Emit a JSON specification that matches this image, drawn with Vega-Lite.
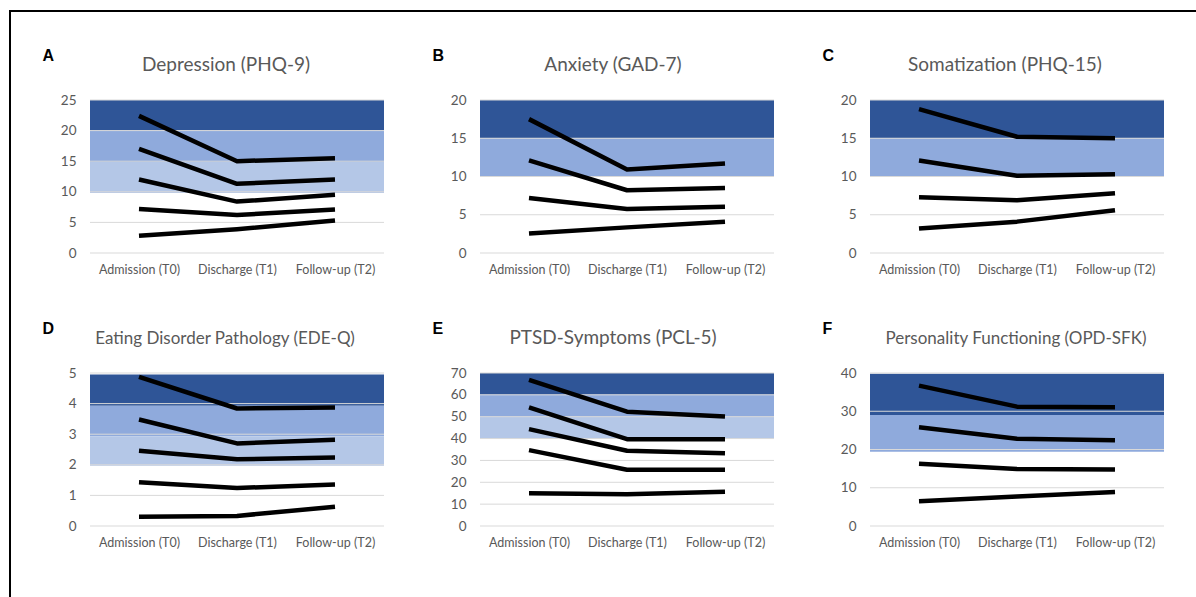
{
  "$schema": "https://vega.github.io/schema/vega-lite/v6.json",
  "padding": {"left": 9, "top": 10, "right": 0, "bottom": 0},
  "background": "white",
  "datasets": {
    "lines": [
      {"p":"A","s":1,"t":"Admission (T0)","v":22.4},{"p":"A","s":1,"t":"Discharge (T1)","v":15.0},{"p":"A","s":1,"t":"Follow-up (T2)","v":15.5},
      {"p":"A","s":2,"t":"Admission (T0)","v":17.0},{"p":"A","s":2,"t":"Discharge (T1)","v":11.3},{"p":"A","s":2,"t":"Follow-up (T2)","v":12.0},
      {"p":"A","s":3,"t":"Admission (T0)","v":12.0},{"p":"A","s":3,"t":"Discharge (T1)","v":8.4},{"p":"A","s":3,"t":"Follow-up (T2)","v":9.5},
      {"p":"A","s":4,"t":"Admission (T0)","v":7.2},{"p":"A","s":4,"t":"Discharge (T1)","v":6.2},{"p":"A","s":4,"t":"Follow-up (T2)","v":7.1},
      {"p":"A","s":5,"t":"Admission (T0)","v":2.8},{"p":"A","s":5,"t":"Discharge (T1)","v":3.9},{"p":"A","s":5,"t":"Follow-up (T2)","v":5.3},
      {"p":"B","s":1,"t":"Admission (T0)","v":17.5},{"p":"B","s":1,"t":"Discharge (T1)","v":10.9},{"p":"B","s":1,"t":"Follow-up (T2)","v":11.7},
      {"p":"B","s":2,"t":"Admission (T0)","v":12.1},{"p":"B","s":2,"t":"Discharge (T1)","v":8.2},{"p":"B","s":2,"t":"Follow-up (T2)","v":8.5},
      {"p":"B","s":3,"t":"Admission (T0)","v":7.2},{"p":"B","s":3,"t":"Discharge (T1)","v":5.75},{"p":"B","s":3,"t":"Follow-up (T2)","v":6.05},
      {"p":"B","s":4,"t":"Admission (T0)","v":2.55},{"p":"B","s":4,"t":"Discharge (T1)","v":3.35},{"p":"B","s":4,"t":"Follow-up (T2)","v":4.1},
      {"p":"C","s":1,"t":"Admission (T0)","v":18.8},{"p":"C","s":1,"t":"Discharge (T1)","v":15.2},{"p":"C","s":1,"t":"Follow-up (T2)","v":15.0},
      {"p":"C","s":2,"t":"Admission (T0)","v":12.1},{"p":"C","s":2,"t":"Discharge (T1)","v":10.1},{"p":"C","s":2,"t":"Follow-up (T2)","v":10.3},
      {"p":"C","s":3,"t":"Admission (T0)","v":7.3},{"p":"C","s":3,"t":"Discharge (T1)","v":6.9},{"p":"C","s":3,"t":"Follow-up (T2)","v":7.8},
      {"p":"C","s":4,"t":"Admission (T0)","v":3.2},{"p":"C","s":4,"t":"Discharge (T1)","v":4.1},{"p":"C","s":4,"t":"Follow-up (T2)","v":5.6},
      {"p":"D","s":1,"t":"Admission (T0)","v":4.87},{"p":"D","s":1,"t":"Discharge (T1)","v":3.84},{"p":"D","s":1,"t":"Follow-up (T2)","v":3.87},
      {"p":"D","s":2,"t":"Admission (T0)","v":3.48},{"p":"D","s":2,"t":"Discharge (T1)","v":2.70},{"p":"D","s":2,"t":"Follow-up (T2)","v":2.82},
      {"p":"D","s":3,"t":"Admission (T0)","v":2.46},{"p":"D","s":3,"t":"Discharge (T1)","v":2.18},{"p":"D","s":3,"t":"Follow-up (T2)","v":2.24},
      {"p":"D","s":4,"t":"Admission (T0)","v":1.43},{"p":"D","s":4,"t":"Discharge (T1)","v":1.24},{"p":"D","s":4,"t":"Follow-up (T2)","v":1.36},
      {"p":"D","s":5,"t":"Admission (T0)","v":0.30},{"p":"D","s":5,"t":"Discharge (T1)","v":0.33},{"p":"D","s":5,"t":"Follow-up (T2)","v":0.63},
      {"p":"E","s":1,"t":"Admission (T0)","v":66.9},{"p":"E","s":1,"t":"Discharge (T1)","v":52.3},{"p":"E","s":1,"t":"Follow-up (T2)","v":50.1},
      {"p":"E","s":2,"t":"Admission (T0)","v":54.3},{"p":"E","s":2,"t":"Discharge (T1)","v":39.7},{"p":"E","s":2,"t":"Follow-up (T2)","v":39.7},
      {"p":"E","s":3,"t":"Admission (T0)","v":44.3},{"p":"E","s":3,"t":"Discharge (T1)","v":34.4},{"p":"E","s":3,"t":"Follow-up (T2)","v":33.3},
      {"p":"E","s":4,"t":"Admission (T0)","v":34.7},{"p":"E","s":4,"t":"Discharge (T1)","v":25.7},{"p":"E","s":4,"t":"Follow-up (T2)","v":25.7},
      {"p":"E","s":5,"t":"Admission (T0)","v":15.0},{"p":"E","s":5,"t":"Discharge (T1)","v":14.5},{"p":"E","s":5,"t":"Follow-up (T2)","v":15.7},
      {"p":"F","s":1,"t":"Admission (T0)","v":36.7},{"p":"F","s":1,"t":"Discharge (T1)","v":31.2},{"p":"F","s":1,"t":"Follow-up (T2)","v":31.05},
      {"p":"F","s":2,"t":"Admission (T0)","v":25.8},{"p":"F","s":2,"t":"Discharge (T1)","v":22.8},{"p":"F","s":2,"t":"Follow-up (T2)","v":22.45},
      {"p":"F","s":3,"t":"Admission (T0)","v":16.3},{"p":"F","s":3,"t":"Discharge (T1)","v":14.9},{"p":"F","s":3,"t":"Follow-up (T2)","v":14.8},
      {"p":"F","s":4,"t":"Admission (T0)","v":6.5},{"p":"F","s":4,"t":"Discharge (T1)","v":7.7},{"p":"F","s":4,"t":"Follow-up (T2)","v":8.9}
    ],
    "bands": [
      {"p":"A","level":"high","lo":20,"hi":25},{"p":"A","level":"mid","lo":14.85,"hi":20},{"p":"A","level":"low","lo":9.8,"hi":14.85},
      {"p":"B","level":"high","lo":15,"hi":20},{"p":"B","level":"mid","lo":10,"hi":15},
      {"p":"C","level":"high","lo":15,"hi":20},{"p":"C","level":"mid","lo":10,"hi":15},
      {"p":"D","level":"high","lo":3.93,"hi":4.95},{"p":"D","level":"mid","lo":2.93,"hi":3.93},{"p":"D","level":"low","lo":1.97,"hi":2.93},
      {"p":"E","level":"high","lo":60,"hi":70},{"p":"E","level":"mid","lo":50,"hi":60},{"p":"E","level":"low","lo":40,"hi":50},
      {"p":"F","level":"high","lo":29,"hi":39.8},{"p":"F","level":"mid","lo":19.4,"hi":29}
    ],
    "grid": [
      {"p":"A","v":0},{"p":"A","v":5},{"p":"A","v":10},{"p":"A","v":15},{"p":"A","v":20},{"p":"A","v":25},
      {"p":"B","v":0},{"p":"B","v":5},{"p":"B","v":10},{"p":"B","v":15},{"p":"B","v":20},
      {"p":"C","v":0},{"p":"C","v":5},{"p":"C","v":10},{"p":"C","v":15},{"p":"C","v":20},
      {"p":"D","v":0},{"p":"D","v":1},{"p":"D","v":2},{"p":"D","v":3},{"p":"D","v":4},{"p":"D","v":5},
      {"p":"E","v":0},{"p":"E","v":10},{"p":"E","v":20},{"p":"E","v":30},{"p":"E","v":40},{"p":"E","v":50},{"p":"E","v":60},{"p":"E","v":70},
      {"p":"F","v":0},{"p":"F","v":10},{"p":"F","v":20},{"p":"F","v":30},{"p":"F","v":40}
    ],
    "blank": [{}]
  },
  "spacing": 0,
  "vconcat": [
    {"width": 1187, "height": 2, "data": {"name": "blank"}, "mark": {"type": "rect", "color": "black"}, "encoding": {}},
    {
      "spacing": 31,
      "hconcat": [
        {"width": 2, "height": 585, "data": {"name": "blank"}, "mark": {"type": "rect", "color": "black"}, "encoding": {}},
        {
          "spacing": 0,
          "vconcat": [
            {"width": 10, "height": 35, "data": {"name": "blank"}, "mark": {"type": "rect", "opacity": 0}, "encoding": {}},
            {
              "columns": 3,
              "spacing": {"column": 47, "row": 44},
              "concat": [
                {
                  "width": 294, "height": 153,
                  "title": {"text": "Depression (PHQ-9)", "dx": -11},
                  "layer": [
                    {"data": {"name": "bands"}, "transform": [{"filter": "datum.p === 'A'"}], "mark": "rect",
                     "encoding": {"y": {"field": "lo", "type": "quantitative", "scale": {"domain": [0, 25], "nice": false}, "axis": {"title": "A", "values": [0, 5, 10, 15, 20, 25]}},
                                  "y2": {"field": "hi"},
                                  "color": {"field": "level", "type": "nominal", "scale": {"domain": ["high", "mid", "low"], "range": ["#2F5597", "#8FAADC", "#B4C7E7"]}, "legend": null}}},
                    {"data": {"name": "grid"}, "transform": [{"filter": "datum.p === 'A'"}], "mark": {"type": "rule", "color": "#D9D9D9", "strokeWidth": 1},
                     "encoding": {"y": {"field": "v", "type": "quantitative", "axis": {"title": "A", "values": [0, 5, 10, 15, 20, 25]}, "scale": {"domain": [0, 25], "nice": false}}}},
                    {"data": {"name": "lines"}, "transform": [{"filter": "datum.p === 'A'"}], "mark": {"type": "line", "color": "black", "strokeWidth": 4.5, "strokeJoin": "round"},
                     "encoding": {"x": {"field": "t", "type": "ordinal", "sort": ["Admission (T0)", "Discharge (T1)", "Follow-up (T2)"], "axis": {"title": null}},
                                  "y": {"field": "v", "type": "quantitative", "axis": {"title": "A", "values": [0, 5, 10, 15, 20, 25]}, "scale": {"domain": [0, 25], "nice": false}},
                                  "detail": {"field": "s", "type": "nominal"}}}
                  ]
                },
                {
                  "width": 294, "height": 153,
                  "title": {"text": "Anxiety (GAD-7)", "dx": -14},
                  "layer": [
                    {"data": {"name": "bands"}, "transform": [{"filter": "datum.p === 'B'"}], "mark": "rect",
                     "encoding": {"y": {"field": "lo", "type": "quantitative", "scale": {"domain": [0, 20], "nice": false}, "axis": {"title": "B", "values": [0, 5, 10, 15, 20]}},
                                  "y2": {"field": "hi"},
                                  "color": {"field": "level", "type": "nominal", "scale": {"domain": ["high", "mid", "low"], "range": ["#2F5597", "#8FAADC", "#B4C7E7"]}, "legend": null}}},
                    {"data": {"name": "grid"}, "transform": [{"filter": "datum.p === 'B'"}], "mark": {"type": "rule", "color": "#D9D9D9", "strokeWidth": 1},
                     "encoding": {"y": {"field": "v", "type": "quantitative", "axis": {"title": "B", "values": [0, 5, 10, 15, 20]}, "scale": {"domain": [0, 20], "nice": false}}}},
                    {"data": {"name": "lines"}, "transform": [{"filter": "datum.p === 'B'"}], "mark": {"type": "line", "color": "black", "strokeWidth": 4.5, "strokeJoin": "round"},
                     "encoding": {"x": {"field": "t", "type": "ordinal", "sort": ["Admission (T0)", "Discharge (T1)", "Follow-up (T2)"], "axis": {"title": null}},
                                  "y": {"field": "v", "type": "quantitative", "axis": {"title": "B", "values": [0, 5, 10, 15, 20]}, "scale": {"domain": [0, 20], "nice": false}},
                                  "detail": {"field": "s", "type": "nominal"}}}
                  ]
                },
                {
                  "width": 294, "height": 153,
                  "title": {"text": "Somatization (PHQ-15)", "dx": -12},
                  "layer": [
                    {"data": {"name": "bands"}, "transform": [{"filter": "datum.p === 'C'"}], "mark": "rect",
                     "encoding": {"y": {"field": "lo", "type": "quantitative", "scale": {"domain": [0, 20], "nice": false}, "axis": {"title": "C", "values": [0, 5, 10, 15, 20]}},
                                  "y2": {"field": "hi"},
                                  "color": {"field": "level", "type": "nominal", "scale": {"domain": ["high", "mid", "low"], "range": ["#2F5597", "#8FAADC", "#B4C7E7"]}, "legend": null}}},
                    {"data": {"name": "grid"}, "transform": [{"filter": "datum.p === 'C'"}], "mark": {"type": "rule", "color": "#D9D9D9", "strokeWidth": 1},
                     "encoding": {"y": {"field": "v", "type": "quantitative", "axis": {"title": "C", "values": [0, 5, 10, 15, 20]}, "scale": {"domain": [0, 20], "nice": false}}}},
                    {"data": {"name": "lines"}, "transform": [{"filter": "datum.p === 'C'"}], "mark": {"type": "line", "color": "black", "strokeWidth": 4.5, "strokeJoin": "round"},
                     "encoding": {"x": {"field": "t", "type": "ordinal", "sort": ["Admission (T0)", "Discharge (T1)", "Follow-up (T2)"], "axis": {"title": null}},
                                  "y": {"field": "v", "type": "quantitative", "axis": {"title": "C", "values": [0, 5, 10, 15, 20]}, "scale": {"domain": [0, 20], "nice": false}},
                                  "detail": {"field": "s", "type": "nominal"}}}
                  ]
                },
                {
                  "width": 294, "height": 153,
                  "title": {"text": "Eating Disorder Pathology (EDE-Q)", "dx": -12, "fontSize": 17},
                  "layer": [
                    {"data": {"name": "bands"}, "transform": [{"filter": "datum.p === 'D'"}], "mark": "rect",
                     "encoding": {"y": {"field": "lo", "type": "quantitative", "scale": {"domain": [0, 5], "nice": false}, "axis": {"title": "D", "values": [0, 1, 2, 3, 4, 5]}},
                                  "y2": {"field": "hi"},
                                  "color": {"field": "level", "type": "nominal", "scale": {"domain": ["high", "mid", "low"], "range": ["#2F5597", "#8FAADC", "#B4C7E7"]}, "legend": null}}},
                    {"data": {"name": "grid"}, "transform": [{"filter": "datum.p === 'D'"}], "mark": {"type": "rule", "color": "#D9D9D9", "strokeWidth": 1},
                     "encoding": {"y": {"field": "v", "type": "quantitative", "axis": {"title": "D", "values": [0, 1, 2, 3, 4, 5]}, "scale": {"domain": [0, 5], "nice": false}}}},
                    {"data": {"name": "lines"}, "transform": [{"filter": "datum.p === 'D'"}], "mark": {"type": "line", "color": "black", "strokeWidth": 4.5, "strokeJoin": "round"},
                     "encoding": {"x": {"field": "t", "type": "ordinal", "sort": ["Admission (T0)", "Discharge (T1)", "Follow-up (T2)"], "axis": {"title": null}},
                                  "y": {"field": "v", "type": "quantitative", "axis": {"title": "D", "values": [0, 1, 2, 3, 4, 5]}, "scale": {"domain": [0, 5], "nice": false}},
                                  "detail": {"field": "s", "type": "nominal"}}}
                  ]
                },
                {
                  "width": 294, "height": 153,
                  "title": {"text": "PTSD-Symptoms (PCL-5)", "dx": -14},
                  "layer": [
                    {"data": {"name": "bands"}, "transform": [{"filter": "datum.p === 'E'"}], "mark": "rect",
                     "encoding": {"y": {"field": "lo", "type": "quantitative", "scale": {"domain": [0, 70], "nice": false}, "axis": {"title": "E", "values": [0, 10, 20, 30, 40, 50, 60, 70]}},
                                  "y2": {"field": "hi"},
                                  "color": {"field": "level", "type": "nominal", "scale": {"domain": ["high", "mid", "low"], "range": ["#2F5597", "#8FAADC", "#B4C7E7"]}, "legend": null}}},
                    {"data": {"name": "grid"}, "transform": [{"filter": "datum.p === 'E'"}], "mark": {"type": "rule", "color": "#D9D9D9", "strokeWidth": 1},
                     "encoding": {"y": {"field": "v", "type": "quantitative", "axis": {"title": "E", "values": [0, 10, 20, 30, 40, 50, 60, 70]}, "scale": {"domain": [0, 70], "nice": false}}}},
                    {"data": {"name": "lines"}, "transform": [{"filter": "datum.p === 'E'"}], "mark": {"type": "line", "color": "black", "strokeWidth": 4.5, "strokeJoin": "round"},
                     "encoding": {"x": {"field": "t", "type": "ordinal", "sort": ["Admission (T0)", "Discharge (T1)", "Follow-up (T2)"], "axis": {"title": null}},
                                  "y": {"field": "v", "type": "quantitative", "axis": {"title": "E", "values": [0, 10, 20, 30, 40, 50, 60, 70]}, "scale": {"domain": [0, 70], "nice": false}},
                                  "detail": {"field": "s", "type": "nominal"}}}
                  ]
                },
                {
                  "width": 294, "height": 153,
                  "title": {"text": "Personality Functioning (OPD-SFK)", "dx": -1, "fontSize": 17},
                  "layer": [
                    {"data": {"name": "bands"}, "transform": [{"filter": "datum.p === 'F'"}], "mark": "rect",
                     "encoding": {"y": {"field": "lo", "type": "quantitative", "scale": {"domain": [0, 40], "nice": false}, "axis": {"title": "F", "values": [0, 10, 20, 30, 40]}},
                                  "y2": {"field": "hi"},
                                  "color": {"field": "level", "type": "nominal", "scale": {"domain": ["high", "mid", "low"], "range": ["#2F5597", "#8FAADC", "#B4C7E7"]}, "legend": null}}},
                    {"data": {"name": "grid"}, "transform": [{"filter": "datum.p === 'F'"}], "mark": {"type": "rule", "color": "#D9D9D9", "strokeWidth": 1},
                     "encoding": {"y": {"field": "v", "type": "quantitative", "axis": {"title": "F", "values": [0, 10, 20, 30, 40]}, "scale": {"domain": [0, 40], "nice": false}}}},
                    {"data": {"name": "lines"}, "transform": [{"filter": "datum.p === 'F'"}], "mark": {"type": "line", "color": "black", "strokeWidth": 4.5, "strokeJoin": "round"},
                     "encoding": {"x": {"field": "t", "type": "ordinal", "sort": ["Admission (T0)", "Discharge (T1)", "Follow-up (T2)"], "axis": {"title": null}},
                                  "y": {"field": "v", "type": "quantitative", "axis": {"title": "F", "values": [0, 10, 20, 30, 40]}, "scale": {"domain": [0, 40], "nice": false}},
                                  "detail": {"field": "s", "type": "nominal"}}}
                  ]
                }
              ]
            }
          ]
        }
      ]
    }
  ],
  "config": {
    "view": {"stroke": null},
    "axis": {"labelFont": "Lato", "labelColor": "#595959", "domain": false, "ticks": false, "grid": false},
    "axisX": {"labelAngle": 0, "labelPadding": 10, "labelFontSize": 12.5},
    "axisY": {"labelPadding": 14, "labelFontSize": 13.5, "titleAngle": 0, "titleX": -48, "titleY": -40, "titleAlign": "left", "titleBaseline": "alphabetic", "titleFont": "Liberation Sans", "titleFontSize": 16, "titleFontWeight": "bold", "titleColor": "black"},
    "title": {"font": "Lato", "fontSize": 19, "fontWeight": "normal", "color": "#595959", "baseline": "alphabetic", "offset": -28, "anchor": "middle"}
  }
}
